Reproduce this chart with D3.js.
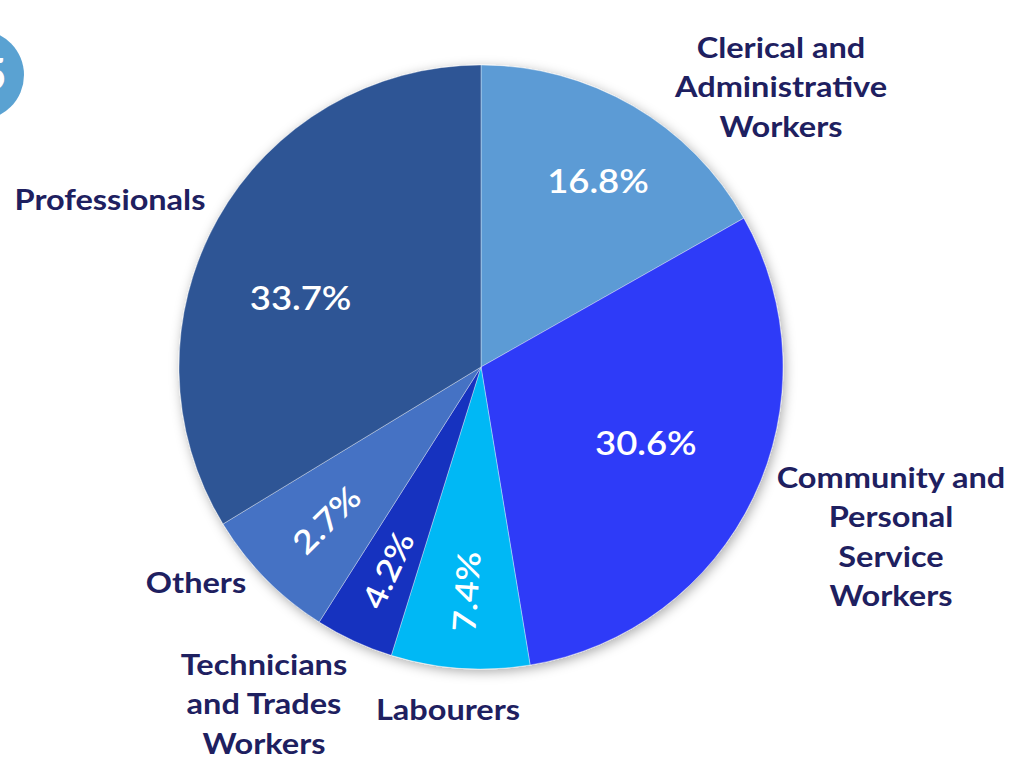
<!DOCTYPE html>
<html>
<head>
<meta charset="utf-8">
<script src="https://cdn.jsdelivr.net/npm/d3@7"></script>
<style>
  html, body { margin: 0; padding: 0; background: #ffffff; }
  svg { display: block; }
</style>
</head>
<body>
<svg id="chart" width="1033" height="760"></svg>
<script>
// ---- data ----
const categories = ["Clerical and Administrative Workers", "Community and Personal Service Workers", "Labourers", "Technicians and Trades Workers", "Others", "Professionals"];
// slice sizes as drawn in the picture (Others' slice is drawn ~7.3% though labelled 2.7%)
const values = [16.8, 30.6, 7.4, 4.2, 7.3, 33.7];
const valueLabels = ["16.8%", "30.6%", "7.4%", "4.2%", "2.7%", "33.7%"];
const colors = ["#5B9BD5", "#2F3BF8", "#00B8F5", "#1530BF", "#4472C4", "#2E5595"];
const outerLabelLines = [
  ["Clerical and", "Administrative", "Workers"],
  ["Community and", "Personal", "Service", "Workers"],
  ["Labourers"],
  ["Technicians", "and Trades", "Workers"],
  ["Others"],
  ["Professionals"]
];

// ---- layout ----
const cx = 481, cy = 367, R = 302;
const labelRadiusFrac = [0.73, 0.60, 0.745, 0.74, 0.72, 0.64];
const labelAngleShift = [1.8, -1, 0, 0, 0, -8.3]; // degrees
const rotateLabel = [false, false, true, true, true, false];
// outer label anchor (centre x, first line centre y)
const outerPos = [[781, 48], [891, 478], [448, 710], [264, 665], [196, 583], [110, 200]];
const lineH = 39.3;
const stretch = 1.14;

const svg = d3.select("#chart");
const defs = svg.append("defs");
const f = defs.append("filter").attr("id", "shadow").attr("x", "-20%").attr("y", "-20%").attr("width", "140%").attr("height", "140%");
f.append("feDropShadow").attr("dx", 2).attr("dy", 3).attr("stdDeviation", 6).attr("flood-color", "#000").attr("flood-opacity", 0.33);

// partial badge at top-left
svg.append("circle").attr("cx", -21).attr("cy", 75).attr("r", 45).attr("fill", "#5AA2D2");
svg.append("text").attr("x", -19).attr("y", 90).attr("fill", "#fff")
  .attr("font-family", "Lato, sans-serif").attr("font-weight", 700).attr("font-size", 44).text("5");

const pie = d3.pie().sort(null).value(d => d)(values);
const arc = d3.arc().innerRadius(0).outerRadius(R);

const g = svg.append("g").attr("transform", `translate(${cx},${cy})`);
g.append("g").attr("filter", "url(#shadow)")
  .selectAll("path").data(pie).join("path")
  .attr("d", arc)
  .attr("fill", (d, i) => colors[i])
  .attr("stroke", "rgba(255,255,255,0.45)")
  .attr("stroke-width", 0.8);

// value labels
g.selectAll("text.val").data(pie).join("text")
  .attr("class", "val")
  .attr("transform", (d, i) => {
    const a = (d.startAngle + d.endAngle) / 2 + labelAngleShift[i] * Math.PI / 180;
    const r = R * labelRadiusFrac[i];
    const x = r * Math.sin(a), y = -r * Math.cos(a);
    const rot = rotateLabel[i] ? (a * 180 / Math.PI - 270) : 0;
    return `translate(${x},${y}) rotate(${rot}) scale(${stretch},1)`;
  })
  .attr("text-anchor", "middle")
  .attr("dominant-baseline", "central")
  .attr("fill", "#fff")
  .attr("font-family", "Lato, sans-serif")
  .attr("font-weight", 600)
  .attr("font-size", 32)
  .text((d, i) => valueLabels[i]);

// outer category labels
const lab = svg.append("g");
categories.forEach((c, i) => {
  const t = lab.append("text")
    .attr("transform", `translate(${outerPos[i][0]},${outerPos[i][1]}) scale(${stretch},1)`)
    .attr("text-anchor", "middle")
    .attr("fill", "#1E2060")
    .attr("font-family", "Lato, sans-serif")
    .attr("font-weight", 700)
    .attr("font-size", 28.5);
  outerLabelLines[i].forEach((ln, k) => {
    t.append("tspan").attr("x", 0).attr("y", k * lineH)
      .attr("dy", "0.35em").text(ln);
  });
});
</script>
</body>
</html>
